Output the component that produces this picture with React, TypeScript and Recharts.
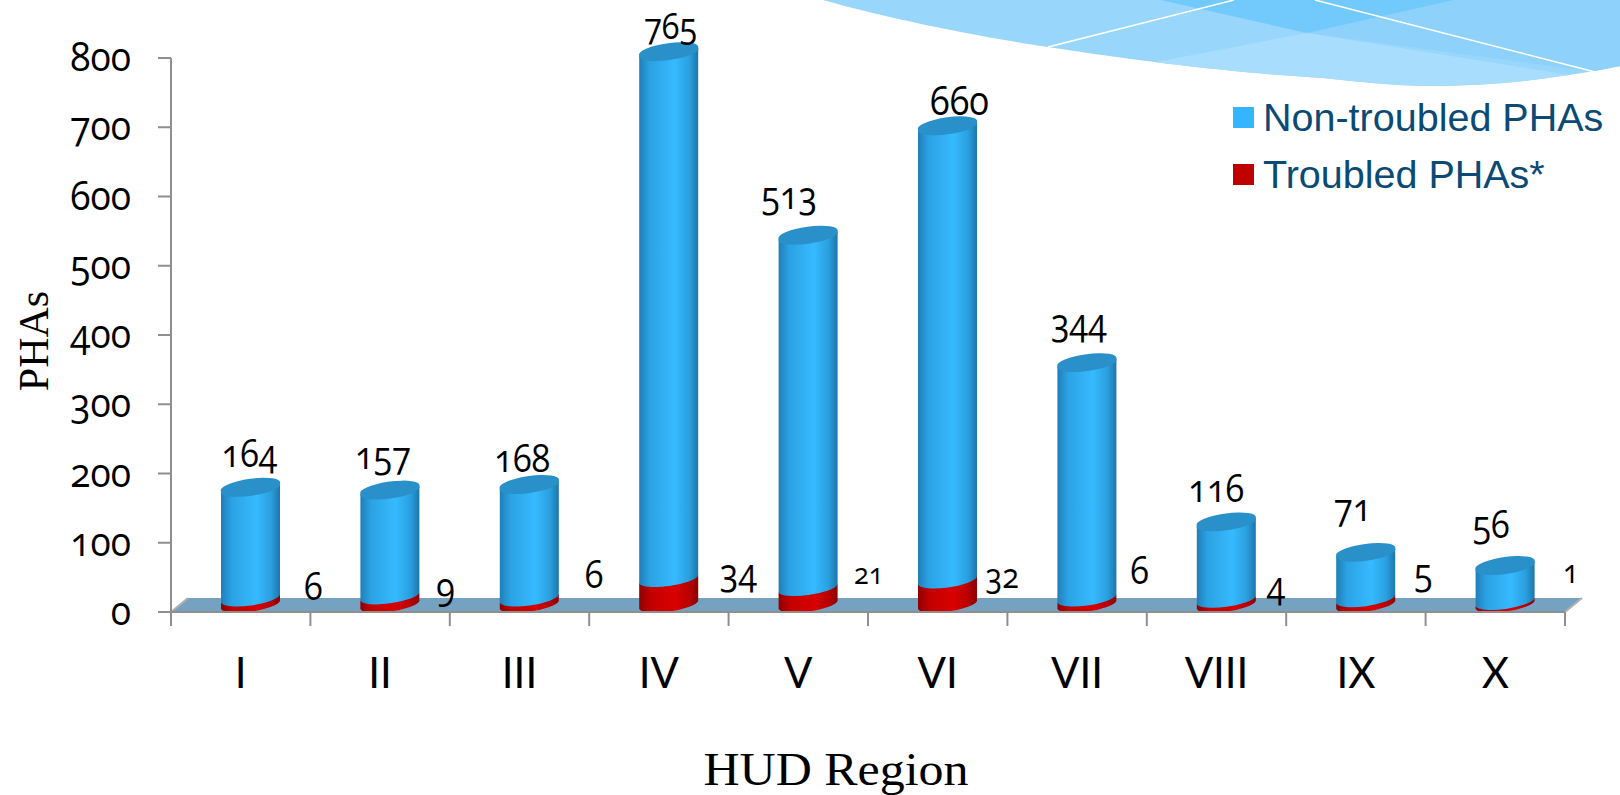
import React from 'react';
import { BarChart, Bar, XAxis, YAxis, Legend, LabelList, ReferenceArea } from 'recharts';

const regions = ['I', 'II', 'III', 'IV', 'V', 'VI', 'VII', 'VIII', 'IX', 'X'];
const nonTroubled = [164, 157, 168, 765, 513, 660, 344, 116, 71, 56];
const troubled = [6, 9, 6, 34, 21, 32, 6, 4, 5, 1];
const yTicks = [0, 100, 200, 300, 400, 500, 600, 700, 800];

const rows = regions.map((region, i) => ({
  region,
  nonTroubled: nonTroubled[i],
  troubled: troubled[i],
}));

const W = 1620;
const H = 795;
const PLOT_LEFT = 171;
const PLOT_RIGHT = 1565;
const PLOT_TOP = 58;
const PLOT_BOTTOM = 612;
const FLOOR_DEPTH = 14;
const BAND = (PLOT_RIGHT - PLOT_LEFT) / regions.length;
const BAR_W = 59;
// The cylinders stand a little behind and to the right of the axis front edge.
const DEPTH_X = 10;
const DEPTH_Y = 7;
const TILT = 4;
const RY = 7.5;
const SEAM_LIFT = 2;

const AXIS = '#8f8f8f';
const DIGITS: React.CSSProperties = {
  fontFamily: '"Open Sans", sans-serif',
  fontVariantNumeric: 'oldstyle-nums',
  fontFeatureSettings: '"onum"',
};

// Hand-placed label nudges, one per region.
const topNudge = [
  [-1, -33], [-7, -34], [-7, -26], [2, -26], [-19, -39],
  [12, -24], [-8, -40], [-10, -33], [-13, -44], [-14, -41],
];
const topSize = [38, 38, 38, 36, 38, 40, 38, 38, 38, 38];
const lowNudge = [
  [3, -13], [-4, -11], [5, -25], [10, -7], [1, -18],
  [-5, -7], [-7, -29], [-10, -15], [-2, -28], [6, -33],
];
const lowSize = [38, 38, 38, 38, 30, 34, 38, 38, 38, 32];

function cylinder(gradient: string, topFill: string | null, seam: number) {
  return (props: any) => {
    const { x, y, width, height } = props;
    const l = x + DEPTH_X;
    const r = l + width;
    const top = y - DEPTH_Y - (topFill ? 0 : SEAM_LIFT);
    const bottom = y + height - DEPTH_Y - seam;
    const rx = width / 2 + 0.5;
    const body =
      `M${l},${top + TILT} L${l},${bottom + TILT} ` +
      `A${rx},${RY} -8 0 0 ${r},${bottom - TILT} L${r},${top - TILT} Z`;
    return (
      <g>
        <path d={body} fill={`url(#${gradient})`} />
        {topFill && (
          <path
            d={`M${l},${top + TILT} A${rx},${RY} -8 1 1 ${r},${top - TILT} A${rx},${RY} -8 1 1 ${l},${top + TILT} Z`}
            fill={topFill}
          />
        )}
      </g>
    );
  };
}

// Digits are squeezed with a transform so the old-style figures survive.
function Digits(props: { x: number; y: number; size: number; squeeze: number; anchor: string; text: string }) {
  const { x, y, size, squeeze, anchor, text } = props;
  return (
    <text transform={`translate(${x},${y}) scale(${squeeze},1)`} textAnchor={anchor as any} fontSize={size} fill="#000" style={DIGITS}>
      {text}
    </text>
  );
}

function XTick(props: any) {
  const { x, index, payload } = props;
  const axisY = PLOT_BOTTOM;
  const right = x + BAND / 2;
  return (
    <g>
      {index === 0 && <line x1={x - BAND / 2} x2={x - BAND / 2} y1={axisY} y2={axisY + 14} stroke={AXIS} strokeWidth={2} />}
      <line x1={right} x2={right} y1={axisY} y2={axisY + 14} stroke={AXIS} strokeWidth={2} />
      <text x={x} y={axisY + 76} textAnchor="middle" fontSize={42} fill="#000" fontFamily='Lato, "Open Sans", sans-serif'>
        {payload.value}
      </text>
    </g>
  );
}

function YTick(props: any) {
  const { x, y, payload } = props;
  return <Digits x={x - 25} y={y + 13} size={40} squeeze={0.93} anchor="end" text={String(payload.value)} />;
}

function TopLabel(props: any) {
  const { x, y, width, value, index } = props;
  const [dx, dy] = topNudge[index];
  return <Digits x={x + width / 2 + DEPTH_X + dx} y={y - DEPTH_Y + dy + 13} size={topSize[index]} squeeze={0.9} anchor="middle" text={String(value)} />;
}

function LowLabel(props: any) {
  const { x, y, width, value, index } = props;
  const [dx, dy] = lowNudge[index];
  const boundary = x + width / 2 + BAND / 2;
  return <Digits x={boundary + dx} y={y - DEPTH_Y + dy + 12} size={lowSize[index]} squeeze={0.9} anchor="middle" text={String(value)} />;
}

// Floor of the chart: a parallelogram receding from the category axis.
function Floor() {
  const x = PLOT_LEFT;
  const bottom = PLOT_BOTTOM;
  const y = bottom - FLOOR_DEPTH;
  const width = PLOT_RIGHT - PLOT_LEFT;
  return (
    <g>
      <path
        d={`M${x},${bottom} L${x + 17},${y} L${x + width + 17},${y} L${x + width},${bottom} Z`}
        fill="#75a2c1"
      />
      <line x1={x} y1={bottom} x2={x + 17} y2={y} stroke="#b0b0b0" strokeWidth={2} />
      <line x1={x + width} y1={bottom} x2={x + width + 17} y2={y} stroke="#b0b0b0" strokeWidth={2} />
    </g>
  );
}

function LegendBox(props: any) {
  const items = props.payload || [];
  return (
    <div style={{ position: 'relative', width: 400 }}>
      {items.map((it: any) => (
        <div key={it.value} style={{ display: 'flex', alignItems: 'center', height: 57 }}>
          <span style={{ width: 21, height: 21, background: it.color, marginRight: 9, flex: 'none' }} />
          <span style={{ font: '39.5px "Liberation Sans", Arial, sans-serif', color: '#0b4a74', whiteSpace: 'nowrap' }}>
            {it.value}
          </span>
        </div>
      ))}
    </div>
  );
}

function Banner() {
  const edge = 'M823,0 C900,22 1000,40 1048,47 C1150,63 1250,74 1323,78 C1360,82 1400,86 1428,86 C1470,86 1510,83 1532,80 C1565,76 1595,71 1620,67 L1620,0 Z';
  return (
    <svg width={W} height={H} style={{ position: 'absolute', left: 0, top: 0 }}>
      <defs>
        <clipPath id="sweep"><path d={edge} /></clipPath>
      </defs>
      <g clipPath="url(#sweep)">
        <rect x={800} y={0} width={820} height={90} fill="#98d6fb" />
        <path d="M1161,0 L1620,0 L1620,67 L1595,72 L1307,33 Z" fill="#8ed2fb" />
        <path d="M1156,62 L1307,33 L1569,75 L1500,90 L1156,90 Z" fill="#a9ddfd" />
        <path d="M1161,0 L1307,33 L1454,0 Z" fill="#72c9fb" />
      </g>
      <path d="M1048,47 L1234,0" stroke="#fff" strokeWidth={1.5} fill="none" />
      <path d="M1315,0 L1595,72 L1620,67" stroke="#fff" strokeWidth={1.5} fill="none" />
    </svg>
  );
}

export default function App() {
  return (
    <div style={{ position: 'absolute', left: 0, top: 0, width: W, height: H, overflow: 'hidden', background: '#fff' }}>
      <Banner />
      <div style={{ position: 'absolute', left: 0, top: 0 }}>
        <BarChart
          width={W}
          height={H}
          data={rows}
          margin={{ top: PLOT_TOP, right: W - PLOT_RIGHT, bottom: 0, left: 0 }}
          barSize={BAR_W}
        >
          <defs>
            <linearGradient id="blueSide" x1="0" x2="1" y1="0" y2="0">
              <stop offset="0" stopColor="#1f7fb6" />
              <stop offset="0.18" stopColor="#2ba2e4" />
              <stop offset="0.6" stopColor="#36baff" />
              <stop offset="0.85" stopColor="#2a9fdf" />
              <stop offset="1" stopColor="#1c76aa" />
            </linearGradient>
            <linearGradient id="redSide" x1="0" x2="1" y1="0" y2="0">
              <stop offset="0" stopColor="#8e0000" />
              <stop offset="0.2" stopColor="#c40000" />
              <stop offset="0.6" stopColor="#d80000" />
              <stop offset="0.85" stopColor="#b80000" />
              <stop offset="1" stopColor="#8a0000" />
            </linearGradient>
          </defs>
          <ReferenceArea x1="I" x2="X" y1={0} y2={20} shape={() => <Floor />} />
          <XAxis
            dataKey="region"
            height={H - PLOT_BOTTOM}
            stroke={AXIS}
            strokeWidth={2}
            tickLine={false}
            tick={<XTick />}
            interval={0}
            label={{
              content: () => (
                <text x={836} y={785} textAnchor="middle" fontSize={46} fill="#000" fontFamily='"Liberation Serif", serif'
                  textLength={265} lengthAdjust="spacingAndGlyphs">
                  HUD Region
                </text>
              ),
            }}
          />
          <YAxis
            width={PLOT_LEFT}
            domain={[0, 800]}
            ticks={yTicks}
            stroke={AXIS}
            strokeWidth={2}
            tickSize={13}
            tick={<YTick />}
            label={{
              content: () => (
                <text transform="translate(48,341) rotate(-90)" textAnchor="middle" fontSize={42} fill="#000" fontFamily='"Liberation Serif", serif'>
                  PHAs
                </text>
              ),
            }}
          />
          <Legend
            layout="vertical"
            verticalAlign="middle"
            align="center"
            wrapperStyle={{ left: 1233, top: 89, width: 400 }}
            content={<LegendBox />}
          />
          <Bar dataKey="troubled" name="Troubled PHAs*" stackId="a" fill="#c00000" isAnimationActive={false} shape={cylinder('redSide', null, 0)}>
            <LabelList dataKey="troubled" content={<LowLabel />} />
          </Bar>
          <Bar dataKey="nonTroubled" name="Non-troubled PHAs" stackId="a" fill="#33b5ff" isAnimationActive={false} shape={cylinder('blueSide', '#2a90c9', SEAM_LIFT)}>
            <LabelList dataKey="nonTroubled" content={<TopLabel />} />
          </Bar>
        </BarChart>
      </div>
    </div>
  );
}
